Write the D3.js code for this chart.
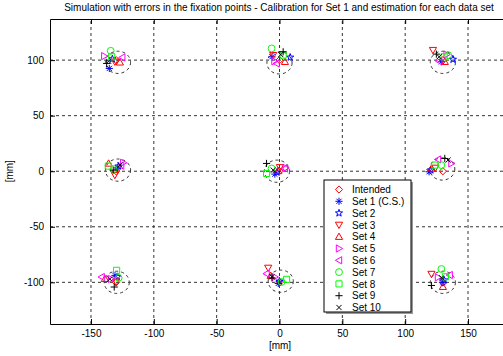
<!DOCTYPE html>
<html>
<head>
<meta charset="utf-8">
<script src="https://cdn.jsdelivr.net/npm/d3@7"></script>
<style>
  body { margin: 0; background: #fff; }
  text { font-family: "Liberation Sans", Arial, sans-serif; }
</style>
</head>
<body>
<div id="chart"></div>
<script>
const width = 503, height = 356;

// fixation targets (mm), order: top row L-M-R, middle row, bottom row
const targetX = [-130, 0, 130, -130, 0, 130, -130, 0, 130];
const targetY = [100, 100, 100, 0, 0, 0, -100, -100, -100];

// dashed error circles around each target (centre, radius in mm)
const circleX = [-128.5, 0, 130, -128.5, -2, 129.5, -129.5, 1, 130];
const circleY = [98, 97.5, 98, 1, 0, 2, -100, -99, -100];
const circleR = 10;

const xTicks = [-150, -100, -50, 0, 50, 100, 150];
const yTicks = [-100, -50, 0, 50, 100];

const seriesNames = ["Intended", "Set 1 (C.S.)", "Set 2", "Set 3", "Set 4", "Set 5",
    "Set 6", "Set 7", "Set 8", "Set 9", "Set 10"];
const seriesColors = ["#ff0000", "#0000ff", "#0000ff", "#ff0000", "#ff0000", "#ff00ff",
    "#ff00ff", "#00ff00", "#00ff00", "#000000", "#000000"];
const seriesMarkers = ["diamond", "asterisk", "pentagram", "triDown", "triUp", "triRight",
    "triLeft", "circle", "square", "plus", "cross"];

// estimated positions for each data set (mm)
const set1X = [-135.4, -6, 128.8, -129, -3.7, 119, -130.9, -1, 130];
const set1Y = [92.5, 103, 98.5, 3, -2.6, -0.5, -93.7, -101, -100.3];
const set2X = [-133, 8.5, 138, -128, -2, 120.5, -129, 0, 131];
const set2Y = [101, 102.5, 100.6, 4.5, -1, 1, -95, -99, -98];
const set3X = [-131, -5, 122.1, -131, 0.3, 124, -130, -9, 120.9];
const set3Y = [98.5, 104.5, 109, -3.5, 3.5, 3, -99.5, -87, -92.5];
const set4X = [-127, 4.3, 131.5, -136, -1, 120.9, -138.9, -7, 130];
const set4Y = [98, 98.5, 98.5, 7, 0.5, 2.5, -96.8, -94, -104];
const set5X = [-139.4, -4, 133, -124.3, 5, 136.8, -134, -3.7, 126.1];
const set5Y = [103.6, 99, 105, 7.6, 3, 7, -97, -95.2, -95.5];
const set6X = [-125.1, -2.3, 127, -126, 4.3, 126.1, -141.5, -10.3, 135.4];
const set6Y = [102.4, 97, 99, 5, 2.5, 10.6, -95.2, -92.2, -93.4];
const set7X = [-134.3, -6.3, 134.2, -132, -6.3, 128.8, -128, 1.6, 128.8];
const set7Y = [108.4, 110.5, 104.5, 2, 2.5, 5.5, -96, -99.7, -88];
const set8X = [-133.5, 2.9, 131, -136.2, -10.3, 123.5, -129.6, 5.6, 132];
const set8Y = [103, 104.5, 103, 4.6, -2, 5.5, -89.2, -97.3, -95];
const set9X = [-137.5, 2.9, 124.8, -132.3, -10.3, 131.5, -131.5, -6, 120.9];
const set9Y = [97, 107.5, 105.4, 1, 7, 11.5, -104.2, -96, -102.8];
const set10X = [-136, 1, 127, -127, -5, 134.1, -135, -6, 129];
const set10Y = [99, 105, 103, 5.5, 1, 10, -97, -95, -96];

const allX = [targetX, set1X, set2X, set3X, set4X, set5X, set6X, set7X, set8X, set9X, set10X];
const allY = [targetY, set1Y, set2Y, set3Y, set4Y, set5Y, set6Y, set7Y, set8Y, set9Y, set10Y];

const margin = { left: 50, top: 19, right: -6, bottom: 32 };

const x = d3.scaleLinear()
    .domain([-182.6, 182.6])
    .range([margin.left, width - margin.right]);
const y = d3.scaleLinear()
    .domain([-137.5, 137])
    .range([height - margin.bottom, margin.top]);

// marker shapes, s = half size in px
function markerPath(type, s) {
    const a = s * 0.72;
    switch (type) {
        case "diamond": return `M0,${-s}L${s},0L0,${s}L${-s},0Z`;
        case "asterisk": return `M${-s},0H${s}M0,${-s}V${s}M${-a},${-a}L${a},${a}M${-a},${a}L${a},${-a}`;
        case "pentagram": {
            let p = "";
            for (let i = 0; i < 10; i++) {
                const r = i % 2 === 0 ? s * 1.05 : s * 0.42;
                const ang = -Math.PI / 2 + i * Math.PI / 5;
                p += (i === 0 ? "M" : "L") + (r * Math.cos(ang)).toFixed(2) + "," + (r * Math.sin(ang)).toFixed(2);
            }
            return p + "Z";
        }
        case "triDown": return `M${-s},${-s * 0.75}L${s},${-s * 0.75}L0,${s}Z`;
        case "triUp": return `M${-s},${s * 0.75}L${s},${s * 0.75}L0,${-s}Z`;
        case "triRight": return `M${-s * 0.75},${-s}L${s},0L${-s * 0.75},${s}Z`;
        case "triLeft": return `M${s * 0.75},${-s}L${-s},0L${s * 0.75},${s}Z`;
        case "circle": return d3.arc()({ innerRadius: 0, outerRadius: s * 0.95, startAngle: 0, endAngle: 2 * Math.PI });
        case "square": return `M${-s * 0.85},${-s * 0.85}H${s * 0.85}V${s * 0.85}H${-s * 0.85}Z`;
        case "plus": return `M${-s},0H${s}M0,${-s}V${s}`;
        case "cross": return `M${-a},${-a}L${a},${a}M${-a},${a}L${a},${-a}`;
    }
}

const svg = d3.select("#chart")
    .append("svg")
    .attr("width", width)
    .attr("height", height);

svg.append("rect")
    .attr("width", width)
    .attr("height", height)
    .attr("fill", "#fff");

// grid
svg.append("g")
    .selectAll("line")
    .data(xTicks)
    .join("line")
    .attr("x1", d => x(d)).attr("x2", d => x(d))
    .attr("y1", y.range()[0]).attr("y2", y.range()[1])
    .attr("stroke", "#333")
    .attr("stroke-dasharray", "3,3");

svg.append("g")
    .selectAll("line")
    .data(yTicks)
    .join("line")
    .attr("x1", x.range()[0]).attr("x2", x.range()[1])
    .attr("y1", d => y(d)).attr("y2", d => y(d))
    .attr("stroke", "#333")
    .attr("stroke-dasharray", "3,3");

// dashed circles
svg.append("g")
    .selectAll("ellipse")
    .data(d3.range(circleX.length))
    .join("ellipse")
    .attr("cx", i => x(circleX[i]))
    .attr("cy", i => y(circleY[i]))
    .attr("rx", x(circleR) - x(0))
    .attr("ry", y(0) - y(circleR))
    .attr("fill", "none")
    .attr("stroke", "#333")
    .attr("stroke-dasharray", "3,3");

// axes box (plain hyphen minus like the original)
const fmt = d => String(d);
const xAxisG = svg.append("g")
    .attr("transform", `translate(0,${y.range()[0]})`)
    .call(d3.axisBottom(x).tickValues(xTicks).tickFormat(fmt).tickSizeInner(-5).tickSizeOuter(0).tickPadding(6));
const xTopG = svg.append("g")
    .attr("transform", `translate(0,${y.range()[1]})`)
    .call(d3.axisTop(x).tickValues(xTicks).tickSizeInner(-5).tickSizeOuter(0).tickFormat(""));
const yAxisG = svg.append("g")
    .attr("transform", `translate(${x.range()[0]},0)`)
    .call(d3.axisLeft(y).tickValues(yTicks).tickFormat(fmt).tickSizeInner(-5).tickSizeOuter(0).tickPadding(6));

[xAxisG, xTopG, yAxisG].forEach(g => {
    g.selectAll("path").attr("stroke", "#000");
    g.selectAll("line").attr("stroke", "#000");
    g.selectAll("text")
        .attr("fill", "#000")
        .style("font-family", "'Liberation Sans', Arial, sans-serif")
        .style("font-size", "10px");
});

// data markers
allX.forEach((xs, k) => {
    svg.append("g")
        .selectAll("path")
        .data(d3.range(xs.length))
        .join("path")
        .attr("transform", i => `translate(${x(xs[i])},${y(allY[k][i])})`)
        .attr("d", markerPath(seriesMarkers[k], 3.6))
        .attr("fill", "none")
        .attr("stroke", seriesColors[k])
        .attr("stroke-width", 1);
});

// title and labels
svg.append("text")
    .attr("x", 279)
    .attr("y", 11)
    .attr("text-anchor", "middle")
    .style("font-size", "10px")
    .text("Simulation with errors in the fixation points - Calibration for Set 1 and estimation for each data set");

svg.append("text")
    .attr("x", 280)
    .attr("y", 349)
    .attr("text-anchor", "middle")
    .style("font-size", "10px")
    .text("[mm]");

svg.append("text")
    .attr("transform", `translate(13,${y(0)}) rotate(-90)`)
    .attr("text-anchor", "middle")
    .style("font-size", "10px")
    .text("[mm]");

// legend
const lg = svg.append("g").attr("transform", "translate(324,180)");
lg.append("rect")
    .attr("x", 2).attr("y", 2)
    .attr("width", 87).attr("height", 132)
    .attr("fill", "#999");
lg.append("rect")
    .attr("width", 87).attr("height", 132)
    .attr("fill", "#fff")
    .attr("stroke", "#000");

const items = lg.selectAll("g.item")
    .data(d3.range(seriesNames.length))
    .join("g")
    .attr("class", "item")
    .attr("transform", i => `translate(15,${9.5 + i * 11.8})`);

items.append("path")
    .attr("d", i => markerPath(seriesMarkers[i], 3.6))
    .attr("fill", "none")
    .attr("stroke", i => seriesColors[i]);

items.append("text")
    .attr("x", 13)
    .attr("y", 3.6)
    .style("font-size", "10px")
    .text(i => seriesNames[i]);
</script>
</body>
</html>
